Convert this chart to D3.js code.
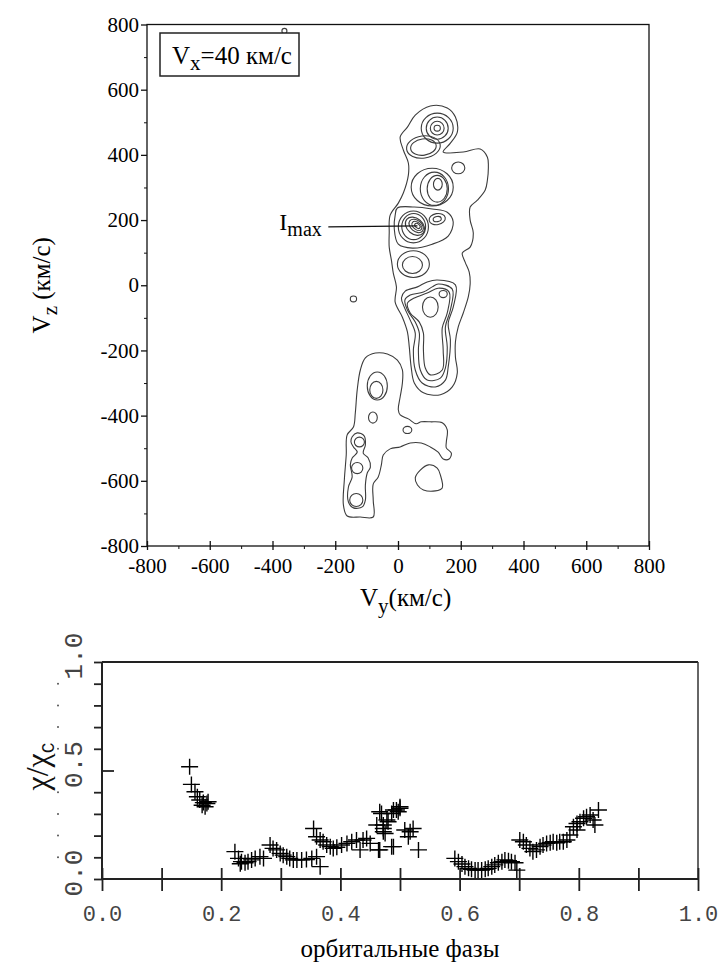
<!DOCTYPE html>
<html><head><meta charset="utf-8">
<script src="https://cdn.jsdelivr.net/npm/d3@7"></script>
<style>body{margin:0;background:#fff}</style>
</head><body>
<svg id="c" width="727" height="965"></svg>
<script>
// ---------------- DATA ----------------
// Top panel: velocity map (km/s)
const velTicks = [-800,-600,-400,-200,0,200,400,600,800];
const velMinorTicks = [-700,-500,-300,-100,100,300,500,700];
const legendLabel = {main:"V", sub:"x", rest:"=40 км/с"};
// Imax annotation: leader from label to intensity peak (Vy, Vz)
const imaxLeader = [[-222,179],[62,182]];
// Simple closed contour rings: [Vy, Vz, halfWidthVy, halfHeightVz, tiltDeg]
const contourRings = [
  [125,482,51,46,0],[125,482,35,34,0],[125,482,22,21,0],[125,482,10,9,0],
  [81,424,54,34,-8],[81,424,41,25,-8],
  [192,360,21,18,0],
  [109,301,67,58,0],[116,296,45,51,0],[125,296,32,41,0],[127,310,14,18,0],
  [49,179,48,49,0],[50,180,38,40,0],[54,181,34,24,40],[58,182,26,17,40],[60,182,18,11,40],[62,182,10,6,40],
  [125,203,26,17,-10],[125,203,13,8,-10],
  [49,65,51,41,0],[46,62,32,26,0],
  [144,-27,13,11,0],[103,-67,25,31,0],
  [-66,-309,32,43,0],[-69,-321,21,26,0],[-80,-406,14,17,0],[30,-444,14,11,0],
  [-123,-481,16,15,0],[-130,-561,18,17,0],[-133,-659,21,20,0],
  [-142,-42,10,9,0],[-362,780,8,8,0]
];
// Irregular closed contours as (Vy, Vz) vertices
const upperEnvelope = [[103,550],[157,544],[183,516],[189,470],[167,436],[144,409],[208,409],[262,418],[285,393],[288,363],[285,323],[278,292],[253,261],[230,240],[230,200],[240,160],[230,117],[205,99],[214,71],[227,40],[230,4],[224,-36],[208,-85],[192,-128],[183,-174],[183,-220],[189,-269],[173,-312],[135,-336],[81,-330],[52,-300],[42,-251],[36,-190],[30,-143],[14,-98],[-9,-52],[-5,-5],[-15,37],[-21,77],[-28,117],[-28,160],[-25,215],[1,252],[17,283],[33,338],[33,375],[17,415],[7,455],[30,485],[55,522]];
const peakEnvelope = [[-2,237],[52,240],[109,234],[157,224],[176,194],[160,151],[109,126],[46,114],[1,126],[-12,175],[-9,215]];
const barOuter = [[125,16],[183,1],[176,-67],[160,-116],[167,-168],[160,-251],[151,-291],[119,-312],[77,-300],[55,-260],[49,-199],[55,-147],[39,-107],[20,-67],[11,-39],[23,-18],[62,-5],[93,10]];
const barMiddle = [[128,4],[173,-12],[167,-76],[151,-128],[157,-190],[151,-254],[135,-285],[93,-291],[71,-260],[65,-199],[68,-147],[55,-113],[30,-76],[22,-45],[39,-30],[81,-21],[109,-5]];
const barInner = [[128,-9],[163,-21],[157,-85],[141,-131],[144,-199],[141,-260],[103,-275],[87,-254],[81,-199],[81,-147],[68,-113],[39,-85],[30,-55],[52,-39],[93,-24]];
const lowerEnvelope = [[14,-260],[14,-300],[7,-342],[1,-382],[7,-398],[33,-410],[58,-425],[74,-419],[103,-419],[141,-422],[157,-444],[154,-481],[154,-499],[170,-515],[163,-533],[144,-533],[128,-512],[103,-496],[74,-484],[39,-484],[7,-496],[-25,-502],[-47,-521],[-53,-551],[-63,-588],[-79,-610],[-79,-659],[-79,-711],[-120,-711],[-162,-708],[-174,-674],[-171,-597],[-165,-521],[-162,-459],[-142,-435],[-136,-391],[-130,-321],[-120,-260],[-104,-223],[-72,-208],[-34,-211],[-2,-230]];
const chainEnvelope = [[-146,-465],[-130,-453],[-108,-462],[-104,-490],[-111,-515],[-95,-530],[-88,-558],[-98,-576],[-104,-613],[-104,-659],[-114,-680],[-142,-683],[-158,-665],[-158,-619],[-146,-588],[-152,-551],[-146,-530],[-130,-512],[-142,-496],[-150,-480]];
const rightBlob = [[71,-567],[97,-551],[125,-561],[135,-582],[141,-622],[119,-631],[81,-628],[62,-613],[55,-591]];
const contourPaths = [upperEnvelope, peakEnvelope, barOuter, barMiddle, barInner, lowerEnvelope, chainEnvelope, rightBlob];

// Bottom panel: chi/chi_c versus orbital phase
const phases = [0.147,0.150,0.156,0.160,0.164,0.168,0.170,0.173,0.176,0.178,
0.223,0.229,0.232,0.234,0.240,0.245,0.251,0.257,0.265,0.271,
0.282,0.287,0.293,0.299,0.304,0.310,0.315,0.321,0.327,0.335,0.343,0.352,0.360,0.366,
0.355,0.360,0.366,0.371,0.377,0.383,0.388,0.394,0.402,0.411,0.419,0.427,0.433,0.438,0.444,0.450,0.464,0.466,0.486,0.489,0.531,
0.461,0.466,0.469,0.472,0.472,0.472,0.475,0.478,0.480,0.486,0.489,0.494,0.497,0.500,0.500,0.508,0.514,0.517,0.522,
0.592,0.598,0.604,0.609,0.615,0.620,0.626,0.631,0.637,0.643,0.648,0.654,0.659,0.665,0.671,0.676,0.682,0.687,0.693,0.696,
0.701,0.707,0.712,0.718,0.723,0.729,0.735,0.740,0.746,0.752,0.757,0.763,0.768,0.774,0.780,0.785,0.791,0.797,0.802,0.808,0.813,0.819,0.824,0.833,0.797,0.827];
const ratios = [0.517,0.436,0.402,0.379,0.364,0.340,0.352,0.333,0.348,0.356,
0.126,0.095,0.070,0.080,0.075,0.080,0.088,0.095,0.103,0.095,
0.157,0.141,0.134,0.118,0.110,0.103,0.095,0.088,0.088,0.088,0.090,0.095,0.103,0.057,
0.233,0.195,0.180,0.172,0.157,0.149,0.141,0.146,0.157,0.164,0.172,0.180,0.134,0.180,0.187,0.164,0.134,0.134,0.149,0.149,0.134,
0.249,0.310,0.302,0.233,0.218,0.249,0.210,0.272,0.264,0.302,0.318,0.318,0.310,0.333,0.326,0.226,0.195,0.218,0.233,
0.095,0.080,0.069,0.057,0.049,0.045,0.041,0.041,0.041,0.045,0.049,0.057,0.065,0.075,0.080,0.088,0.084,0.080,0.075,0.041,
0.180,0.172,0.157,0.141,0.126,0.134,0.149,0.157,0.164,0.167,0.172,0.167,0.172,0.172,0.180,0.203,0.241,0.256,0.264,0.280,0.287,0.295,0.272,0.318,0.226,0.249];
const phaseTicks = [0,0.1,0.2,0.3,0.4,0.5,0.6,0.7,0.8,0.9,1.0];
const phaseTickLabels = ["0.0","","0.2","","0.4","","0.6","","0.8","","1.0"];
const ratioTicks = [0,0.1,0.2,0.3,0.4,0.5,0.6,0.7,0.8,0.9,1.0];
const ratioTickLabels = [[0,"0.0"],[0.5,"0.5"],[1.0,"1.0"]];
const ratioMarkedTick = 0.5;

// ---------------- DRAW ----------------
const svg = d3.select("#c");
const serif = "'Liberation Serif', 'Times New Roman', serif";
const mono = "'Liberation Mono', 'Courier New', monospace";

// ===== Top panel =====
const x1 = d3.scaleLinear().domain([-800,800]).range([147,649]);
const y1 = d3.scaleLinear().domain([-800,800]).range([546,24.5]);
const T = svg.append("g");

const lineGen = d3.line().x(d=>x1(d[0])).y(d=>y1(d[1])).curve(d3.curveCatmullRomClosed.alpha(0.5));
T.append("g").selectAll("path").data(contourPaths).join("path")
  .attr("d", lineGen).attr("fill","none").attr("stroke","#3c3c3c").attr("stroke-width",1.1);
T.append("g").selectAll("ellipse").data(contourRings).join("ellipse")
  .attr("cx",d=>x1(d[0])).attr("cy",d=>y1(d[1]))
  .attr("rx",d=>x1(d[0]+d[2])-x1(d[0]))
  .attr("ry",d=>y1(d[1]-d[3])-y1(d[1]))
  .attr("transform",d=>`rotate(${d[4]},${x1(d[0])},${y1(d[1])})`)
  .attr("fill","none").attr("stroke","#3c3c3c").attr("stroke-width",1.1);

// frame
T.append("rect").attr("x",x1(-800)).attr("y",y1(800))
  .attr("width",x1(800)-x1(-800)).attr("height",y1(-800)-y1(800))
  .attr("fill","none").attr("stroke","#111").attr("stroke-width",1.3);

// y axis
const yAx = T.append("g").attr("transform",`translate(${x1(-800)},0)`)
  .call(d3.axisLeft(y1).tickValues(velTicks).tickSize(6).tickSizeOuter(0).tickPadding(2).tickFormat(d=>String(d)));
yAx.select(".domain").remove();
yAx.attr("color","#111");
yAx.selectAll("text").attr("fill","#000").style("font-family",serif).style("font-size","21px");
yAx.selectAll("line").attr("stroke-width",1.3);
const yAxm = T.append("g").attr("transform",`translate(${x1(-800)},0)`)
  .call(d3.axisLeft(y1).tickValues(velMinorTicks).tickSize(3).tickSizeOuter(0).tickFormat(""));
yAxm.select(".domain").remove(); yAxm.attr("color","#111");

// x axis
const xAx = T.append("g").attr("transform",`translate(0,${y1(-800)})`)
  .call(d3.axisBottom(x1).tickValues(velTicks).tickSize(4).tickSizeOuter(0).tickFormat(d=>String(d)));
xAx.select(".domain").remove();
xAx.attr("color","#111");
xAx.selectAll(".tick line").attr("y1",-5).attr("y2",4).attr("stroke-width",1.3);
xAx.selectAll(".tick text").attr("y",12).attr("dy","0.71em").attr("fill","#000")
  .style("font-family",serif).style("font-size","21px");
const xAxm = T.append("g").attr("transform",`translate(0,${y1(-800)})`)
  .call(d3.axisBottom(x1).tickValues(velMinorTicks).tickSize(3).tickSizeOuter(0).tickFormat(""));
xAxm.select(".domain").remove(); xAxm.attr("color","#111");

// axis titles
const xt = T.append("text").attr("x",x1(0)-38).attr("y",606)
  .style("font-family",serif).style("font-size","25px").attr("fill","#000");
xt.append("tspan").text("V");
xt.append("tspan").text("y").style("font-size","21px").attr("dy",7);
xt.append("tspan").text("(км/с)").attr("dy",-7);

const yt = T.append("text").attr("transform",`translate(50,${y1(0)}) rotate(-90)`)
  .attr("text-anchor","middle").style("font-family",serif).style("font-size","25px").attr("fill","#000");
yt.append("tspan").text("V");
yt.append("tspan").text("z").style("font-size","21px").attr("dy",7);
yt.append("tspan").text(" (км/с)").attr("dy",-7);

// legend box
T.append("rect").attr("x",160).attr("y",33).attr("width",139).attr("height",43)
  .attr("fill","#fff").attr("stroke","#222").attr("stroke-width",1.5);
const lt = T.append("text").attr("x",172).attr("y",64).style("font-family",serif).style("font-size","25px").attr("fill","#000");
lt.append("tspan").text(legendLabel.main);
lt.append("tspan").text(legendLabel.sub).style("font-size","21px").attr("dy",6);
lt.append("tspan").text(legendLabel.rest).attr("dy",-6);

// Imax annotation
T.append("line").attr("x1",x1(imaxLeader[0][0])).attr("y1",y1(imaxLeader[0][1]))
  .attr("x2",x1(imaxLeader[1][0])).attr("y2",y1(imaxLeader[1][1]))
  .attr("stroke","#111").attr("stroke-width",1.2);
const it = T.append("text").attr("x",x1(imaxLeader[0][0])-49).attr("y",y1(imaxLeader[0][1])+3)
  .style("font-family",serif).style("font-size","24px").attr("fill","#000");
it.append("tspan").text("I");
it.append("tspan").text("max").style("font-size","20px").attr("dy",6);

// ===== Bottom panel =====
const x2 = d3.scaleLinear().domain([0,1]).range([102,698]);
const y2 = d3.scaleLinear().domain([0,1]).range([879,662]);
const B = svg.append("g");

// frame lines
B.append("line").attr("x1",x2(0)).attr("x2",x2(1)).attr("y1",y2(1)).attr("y2",y2(1)).attr("stroke","#222").attr("stroke-width",2);
B.append("line").attr("x1",x2(1)).attr("x2",x2(1)).attr("y1",y2(1)).attr("y2",y2(0)).attr("stroke","#333").attr("stroke-width",1.5);
B.append("line").attr("x1",x2(0)).attr("x2",x2(0)).attr("y1",y2(1)).attr("y2",y2(0)).attr("stroke","#222").attr("stroke-width",2);
B.append("line").attr("x1",x2(0)).attr("x2",x2(1)).attr("y1",y2(0)).attr("y2",y2(0)).attr("stroke","#222").attr("stroke-width",2);

// x axis
const bx = B.append("g").attr("transform",`translate(0,${y2(0)})`)
  .call(d3.axisBottom(x2).tickValues(phaseTicks).tickSize(12).tickSizeOuter(0)
    .tickFormat((d,i)=>phaseTickLabels[i]));
bx.select(".domain").remove();
bx.attr("color","#222");
bx.selectAll(".tick line").attr("y1",-11).attr("y2",12).attr("stroke-width",1.8);
bx.selectAll(".tick text").attr("y",26).attr("dy","0.71em").attr("fill","#444")
  .style("font-family",mono).style("font-size","22px");

// y axis ticks
const by = B.append("g").attr("transform",`translate(${x2(0)},0)`)
  .call(d3.axisLeft(y2).tickValues(ratioTicks).tickSize(8).tickSizeOuter(0).tickFormat(""));
by.select(".domain").remove();
by.attr("color","#222");
by.selectAll(".tick line").attr("stroke-width",1.8)
  .filter(d=>Math.abs(d-ratioMarkedTick)<1e-9).attr("x2",12);
// y labels (rotated)
B.append("g").selectAll("text").data(ratioTickLabels).join("text")
  .attr("transform",d=>`translate(82,${y2(d[0])-6}) rotate(-90)`)
  .attr("text-anchor","middle").style("font-family",mono).style("font-size","26px").attr("fill","#444")
  .text(d=>d[1]);
// faint leftover dots at unlabeled ticks
B.append("g").selectAll("circle").data(ratioTicks.filter(v=>![0,0.5,1].includes(v))).join("circle")
  .attr("cx",58).attr("cy",d=>y2(d)).attr("r",1).attr("fill","#555");

// y title
const bt = B.append("text").attr("transform",`translate(48,${y2(0.5)-4}) rotate(-90)`)
  .attr("text-anchor","middle").style("font-family",serif).style("font-size","32px").attr("fill","#111");
bt.append("tspan").text("χ/χ");
bt.append("tspan").text("C").style("font-family",mono).style("font-size","18px").attr("dy",6);

// x title
B.append("text").attr("x",x2(0.5)).attr("y",957).attr("text-anchor","middle")
  .style("font-family",serif).style("font-size","25px").attr("fill","#000").text("орбитальные фазы");

// data markers (+)
const pts = phases.map((p,i)=>[p, ratios[i]]);
B.append("g").selectAll("path").data(pts).join("path")
  .attr("transform",d=>`translate(${x2(d[0])},${y2(d[1])})`)
  .attr("d","M-8.5,0H8.5M0,-8V8")
  .attr("stroke","#000").attr("stroke-width",1.4).attr("fill","none");
</script>
</body></html>
